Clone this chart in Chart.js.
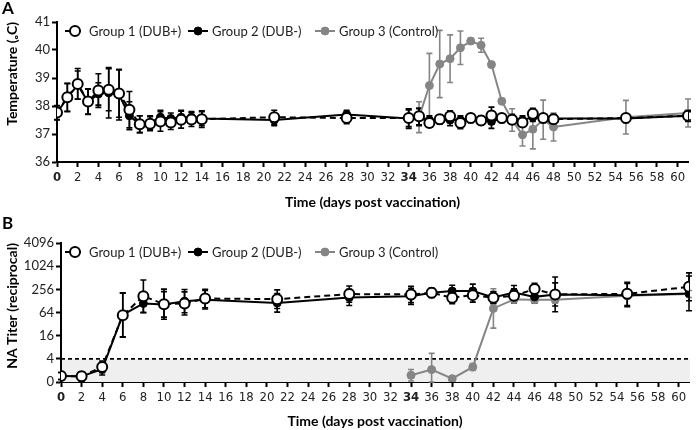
<!DOCTYPE html>
<html>
<head>
<meta charset="utf-8">
<script src="https://cdn.jsdelivr.net/npm/chart.js@4"></script>
<style>
  body { margin: 0; background: #fff; width: 696px; height: 430px; position: relative; overflow: hidden; }
  .panel { position: absolute; left: 0; width: 696px; height: 215px; }
  .lbl { position: absolute; left: 2px; font: bold 17px Lato, "Noto Sans", sans-serif; }
</style>
</head>
<body>
<div class="panel" style="top:0"><canvas id="tempChart" width="696" height="215"></canvas></div>
<div class="panel" style="top:215px"><canvas id="titerChart" width="696" height="215"></canvas></div>
<div class="lbl" style="top:-3px">A</div>
<div class="lbl" style="top:212px">B</div>

<script>
// Legend labels
const groupLabels = ["Group 1 (DUB+)", "Group 2 (DUB-)", "Group 3 (Control)"];

// x axis tick labels (days), bold ones mark vaccination and challenge
const dayTicks = [0, 2, 4, 6, 8, 10, 12, 14, 16, 18, 20, 22, 24, 26, 28, 30,
    32, 34, 36, 38, 40, 42, 44, 46, 48, 50, 52, 54, 56, 58, 60];
const boldDays = [0, 34];

// Panel A - temperature (days post vaccination)
const tempDays = [0, 1, 2, 3, 4, 5, 6, 7, 8, 9, 10, 11, 12, 13, 14, 21, 28,
    34, 35, 36, 37, 38, 39, 40, 41, 42, 43, 44, 45, 46, 47, 48, 55, 61];
const g1Temp = [37.77, 38.31, 38.79, 38.16, 38.55, 38.58, 38.45, 37.87, 37.35, 37.37, 37.45, 37.41, 37.51, 37.52, 37.53, 37.60, 37.57,
    37.57, 37.63, 37.39, 37.53, 37.63, 37.39, 37.57, 37.48, 37.66, 37.57, 37.51, 37.41, 37.72, 37.57, 37.53, 37.57, 37.65];
const g1TempErr = [0.25, 0.5, 0.55, 0.45, 0.6, 0.75, 0.85, 0.65, 0.3, 0.25, 0.35, 0.25, 0.3, 0.25, 0.3, 0.25, 0.2,
    0.3, 0.3, 0.15, 0.15, 0.2, 0.2, 0.15, 0.15, 0.3, 0.15, 0.15, 0.15, 0.2, 0.15, 0.15, 0.15, 0.2];
const g2Temp = [37.75, 38.3, 38.75, 38.15, 38.43, 38.47, 38.4, 37.65, 37.35, 37.4, 37.6, 37.55, 37.6, 37.6, 37.55, 37.5, 37.7,
    37.55, 37.6, 37.5, 37.5, 37.5, 37.5, 37.55, 37.5, 37.45, 37.55, 37.55, 37.5, 37.6, 37.55, 37.55, 37.55, 37.65];
const g2TempErr = [0.25, 0.5, 0.5, 0.45, 0.4, 0.9, 0.9, 0.5, 0.3, 0.25, 0.25, 0.2, 0.25, 0.2, 0.25, 0.2, 0.15,
    0.35, 0.3, 0.15, 0.15, 0.2, 0.15, 0.15, 0.15, 0.25, 0.15, 0.15, 0.15, 0.15, 0.15, 0.15, 0.15, 0.15];
const g3TempDays = [34, 35, 36, 37, 38, 39, 40, 41, 42, 43, 44, 45, 46, 47, 48, 55, 61];
const g3Temp = [37.55, 37.6, 38.73, 39.5, 39.69, 40.08, 40.32, 40.17, 39.48, 38.17, 37.5, 36.97, 37.17, 37.51, 37.25, 37.6, 37.75];
const g3TempErr = [0.3, 0.55, 1.15, 1.2, 0.85, 0.6, 0.1, 0.25, 0.1, 0.1, 0.4, 0.4, 0.7, 0.7, 0.5, 0.6, 0.5];

// Panel B - NA titer, stored as log2 of the reciprocal titer
const titerDays = [0, 2, 4, 6, 8, 10, 12, 14, 21, 28, 34, 36, 38, 40, 42, 44, 46, 48, 55, 61];
const g1TiterLog2 = [0.52, 0.49, 1.3, 5.77, 7.41, 6.72, 6.78, 7.21, 7.15, 7.59, 7.56, 7.7, 7.27, 7.5, 7.27, 7.44, 8.02, 7.56, 7.61, 8.22];
const g1TiterErr = [0.3, 0.4, 0.5, 1.9, 1.4, 1.3, 1.0, 0.8, 0.8, 0.7, 0.7, 0.4, 0.5, 0.6, 0.5, 0.6, 0.5, 1.0, 1.0, 1.2];
const g2TiterLog2 = [0.52, 0.49, 1.1, 5.8, 6.78, 6.7, 6.98, 7.1, 6.83, 7.3, 7.4, 7.7, 7.85, 7.85, 7.3, 7.73, 7.35, 7.56, 7.5, 7.65];
const g2TiterErr = [0.3, 0.4, 0.5, 1.9, 0.8, 1.1, 1.0, 0.8, 0.8, 0.7, 0.7, 0.4, 0.5, 0.6, 0.5, 0.6, 0.5, 1.5, 1.0, 1.5];
const g3TiterDays = [34, 36, 38, 40, 42, 44, 46, 48, 55, 61];
const g3TiterLog2 = [0.58, 1.07, 0.29, 1.3, 6.35, 7.13, 7.1, 7.1, 7.45, 7.6];
const g3TiterErr = [0.5, 1.4, 0.2, 0.3, 1.7, 0.3, 0.3, 0.3, 0.3, 0.3];
const detectionLimitLog2 = 2;

const GRAY = "#858585";
const tickFont = "'Liberation Sans Narrow', 'DejaVu Sans Condensed', sans-serif";
const textFont = "Lato, 'Noto Sans', sans-serif";
const legendX = [65, 188, 315];

function points(xs, ys) {
    return xs.map((x, i) => ({ x: x, y: ys[i] }));
}

function makeDatasets(d1, d2, d3) {
    return [
        { label: groupLabels[0], data: d1.pts, errors: d1.err, borderColor: "#000", backgroundColor: "#fff",
          borderWidth: 2, borderDash: [6, 4], pointRadius: 5, pointBorderWidth: 2, pointBackgroundColor: "#fff" },
        { label: groupLabels[1], data: d2.pts, errors: d2.err, borderColor: "#000", backgroundColor: "#000",
          borderWidth: 2, pointRadius: 4, pointBorderWidth: 1, pointBackgroundColor: "#000" },
        { label: groupLabels[2], data: d3.pts, errors: d3.err, borderColor: GRAY, backgroundColor: GRAY,
          borderWidth: 2, pointRadius: 4, pointBorderWidth: 1, pointBackgroundColor: GRAY }
    ];
}

// Draw error bars with caps using the chart's y scale
const errorBarPlugin = {
    id: "errorBars",
    beforeDatasetsDraw(chart) {
        const ctx = chart.ctx;
        const yScale = chart.scales.y;
        for (let i = chart.data.datasets.length - 1; i >= 0; i--) {
            const ds = chart.data.datasets[i];
            const meta = chart.getDatasetMeta(i);
            ctx.save();
            ctx.strokeStyle = ds.borderColor;
            ctx.lineWidth = 1.6;
            meta.data.forEach((pt, j) => {
                const v = ds.data[j].y, e = ds.errors[j];
                const top = yScale.getPixelForValue(v + e);
                const bot = yScale.getPixelForValue(Math.max(v - e, yScale.min));
                ctx.beginPath();
                ctx.moveTo(pt.x, top); ctx.lineTo(pt.x, bot);
                ctx.moveTo(pt.x - 3, top); ctx.lineTo(pt.x + 3, top);
                ctx.moveTo(pt.x - 3, bot); ctx.lineTo(pt.x + 3, bot);
                ctx.stroke();
            });
            ctx.restore();
        }
    }
};

// Legend drawn inside the plot area, top left
const legendPlugin = {
    id: "inlineLegend",
    afterDraw(chart) {
        const ctx = chart.ctx;
        const y = chart.chartArea.top + 9;
        ctx.save();
        ctx.font = "13px " + textFont;
        ctx.textBaseline = "middle";
        chart.data.datasets.forEach((ds, i) => {
            const x = legendX[i];
            ctx.strokeStyle = ds.borderColor;
            ctx.lineWidth = 2;
            ctx.setLineDash(ds.borderDash || []);
            ctx.beginPath(); ctx.moveTo(x, y); ctx.lineTo(x + 20, y); ctx.stroke();
            ctx.setLineDash([]);
            ctx.beginPath();
            ctx.arc(x + 10, y, ds.pointRadius, 0, Math.PI * 2);
            ctx.fillStyle = ds.pointBackgroundColor;
            ctx.fill();
            ctx.lineWidth = ds.pointBorderWidth;
            ctx.stroke();
            ctx.fillStyle = "#222";
            ctx.fillText(ds.label, x + 24, y + 1);
        });
        ctx.restore();
    }
};

// Shaded region below the detection limit and dashed line at 4
const limitPlugin = {
    id: "detectionLimit",
    beforeDatasetsDraw(chart) {
        const ctx = chart.ctx;
        const a = chart.chartArea;
        const yLim = chart.scales.y.getPixelForValue(detectionLimitLog2);
        const y0 = chart.scales.y.getPixelForValue(0);
        ctx.save();
        ctx.fillStyle = "#efefef";
        ctx.fillRect(a.left + 1, yLim, a.right - a.left, y0 - yLim);
        ctx.strokeStyle = "#000";
        ctx.lineWidth = 1.6;
        ctx.setLineDash([4, 3]);
        ctx.beginPath(); ctx.moveTo(a.left, yLim); ctx.lineTo(a.right, yLim); ctx.stroke();
        ctx.restore();
    }
};

function xAxis(height, titlePad) {
    return {
        type: "linear", min: 0, max: 61,
        afterFit: s => { s.height = height; },
        afterBuildTicks: s => { s.ticks = dayTicks.map(v => ({ value: v })); },
        border: { color: "#000", width: 2 },
        grid: { drawOnChartArea: false, tickLength: 5, tickWidth: 2, tickColor: "#000" },
        ticks: {
            autoSkip: false, maxRotation: 0, padding: 3, color: "#222",
            font: ctx => ({ family: tickFont, size: 13,
                weight: (ctx.tick && boldDays.includes(ctx.tick.value)) ? "bold" : "normal" })
        },
        title: { display: true, text: "Time (days post vaccination)", color: "#000",
                 font: { family: textFont, size: 14, weight: "bold" }, padding: titlePad }
    };
}

function yAxis(width, opts) {
    return Object.assign({
        type: "linear",
        afterFit: s => { s.width = width; },
        border: { color: "#000", width: 2 },
        grid: { drawOnChartArea: false, tickLength: 5, tickWidth: 2, tickColor: "#000" },
        ticks: { color: "#222", padding: 2, font: { family: textFont, size: 13 } }
    }, opts);
}

const baseOptions = {
    responsive: false,
    animation: false,
    plugins: { legend: { display: false }, tooltip: { enabled: false } }
};

new Chart(document.getElementById("tempChart").getContext("2d"), {
    type: "line",
    data: {
        datasets: makeDatasets(
            { pts: points(tempDays, g1Temp), err: g1TempErr },
            { pts: points(tempDays, g2Temp), err: g2TempErr },
            { pts: points(g3TempDays, g3Temp), err: g3TempErr })
    },
    options: Object.assign({}, baseOptions, {
        layout: { padding: { top: 22, right: 8, left: 0, bottom: 0 } },
        scales: {
            x: xAxis(53, { top: 6, bottom: 4 }),
            y: yAxis(57, {
                min: 36, max: 41,
                title: { display: true, text: "Temperature (ₒC)", align: "end", color: "#000",
                         font: { family: textFont, size: 14, weight: "bold" }, padding: { bottom: 2 } }
            })
        }
    }),
    plugins: [errorBarPlugin, legendPlugin]
});

new Chart(document.getElementById("titerChart").getContext("2d"), {
    type: "line",
    data: {
        datasets: makeDatasets(
            { pts: points(titerDays, g1TiterLog2), err: g1TiterErr },
            { pts: points(titerDays, g2TiterLog2), err: g2TiterErr },
            { pts: points(g3TiterDays, g3TiterLog2), err: g3TiterErr })
    },
    options: Object.assign({}, baseOptions, {
        layout: { padding: { top: 28, right: 4, left: 0, bottom: 0 } },
        scales: {
            x: xAxis(48, { top: 10, bottom: 0 }),
            y: yAxis(61, {
                min: 0, max: 12,
                ticks: { color: "#222", padding: 2, stepSize: 2, font: { family: textFont, size: 13 },
                         callback: v => v === 0 ? "0" : String(Math.pow(2, v)) },
                title: { display: true, text: "NA Titer (reciprocal)", align: "end", color: "#000",
                         font: { family: textFont, size: 14, weight: "bold" }, padding: { bottom: 2 } }
            })
        }
    }),
    plugins: [limitPlugin, errorBarPlugin, legendPlugin]
});
</script>
</body>
</html>
